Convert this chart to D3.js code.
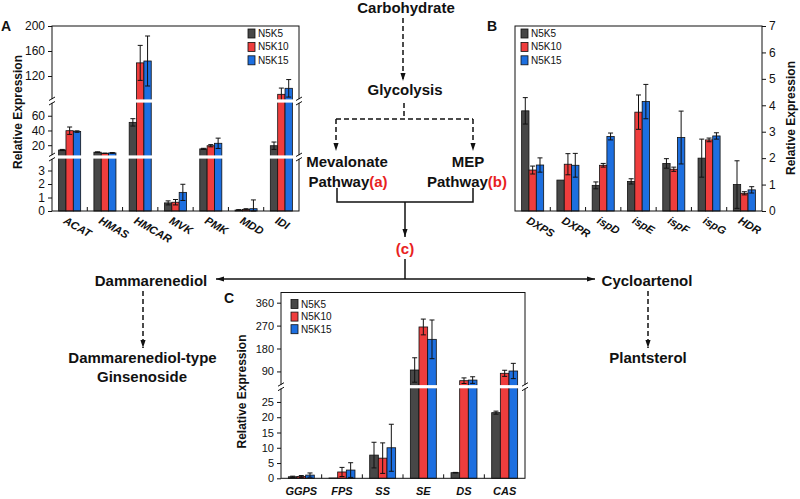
<!DOCTYPE html>
<html><head><meta charset="utf-8">
<script src="https://cdn.jsdelivr.net/npm/d3@7"></script>
<style>
body{margin:0;background:#fff}
svg{display:block}
text{font-family:"Liberation Sans",Arial,sans-serif;fill:#111}
</style>
</head><body>
<svg id="c" width="800" height="499"></svg>
<script>
// ---------- DATA ----------
const series = ["N5K5", "N5K10", "N5K15"];

const catsA = ["ACAT", "HMAS", "HMCAR", "MVK", "PMK", "MDD", "IDI"];
const a_N5K5  = [13.5, 10.5, 51, 0.6, 15, 0.07, 19.3];
const a_N5K10 = [39.7, 9, 141, 0.65, 19.3, 0.12, 90.7];
const a_N5K15 = [38.5, 9.5, 144, 1.38, 22.6, 0.17, 100.3];
const aErr_N5K5  = [0.8, 0.5, 5, 0.15, 0.8, 0.03, 5];
const aErr_N5K10 = [5, 0.3, 28, 0.2, 1.5, 0.05, 10];
const aErr_N5K15 = [1, 0.5, 40, 0.6, 7, 0.65, 14];
const ticksA = [0, 1, 2, 3, 20, 40, 60, 120, 160, 200];

const catsB = ["DXPS", "DXPR", "ispD", "ispE", "ispF", "ispG", "HDR"];
const b_N5K5  = [3.79, 1.17, 0.97, 1.12, 1.8, 2.0, 1.0];
const b_N5K10 = [1.55, 1.77, 1.73, 3.74, 1.58, 2.69, 0.67];
const b_N5K15 = [1.74, 1.73, 2.82, 4.14, 2.78, 2.84, 0.8];
const bErr_N5K5  = [0.5, 0, 0.13, 0.1, 0.18, 0.72, 0.9];
const bErr_N5K10 = [0.15, 0.4, 0.07, 0.65, 0.08, 0.07, 0.06];
const bErr_N5K15 = [0.27, 0.45, 0.13, 0.65, 1.0, 0.12, 0.12];
const ticksB = [0, 1, 2, 3, 4, 5, 6, 7];

const catsC = ["GGPS", "FPS", "SS", "SE", "DS", "CAS"];
const c_N5K5  = [0.5, 0.1, 7.6, 95.6, 1.84, 21.5];
const c_N5K10 = [0.6, 2.07, 6.6, 264.6, 53.6, 82.6];
const c_N5K15 = [1.05, 2.7, 10.0, 216, 56, 91.7];
const cErr_N5K5  = [0.2, 0, 4.2, 48, 0.1, 0.5];
const cErr_N5K10 = [0.3, 1.5, 5, 31, 11, 12];
const cErr_N5K15 = [0.7, 2.4, 7.7, 76, 13, 30];
const ticksC = [0, 5, 10, 15, 20, 25, 90, 180, 270, 360];

// ---------- STYLE ----------
const colors = ["#474747", "#ef3d3d", "#1d6fe0"];
const svg = d3.select("#c");

const defs = svg.append("defs");
defs.append("marker").attr("id", "ah").attr("viewBox", "0 0 10 10")
  .attr("refX", 10).attr("refY", 5).attr("markerWidth", 8).attr("markerHeight", 8)
  .attr("markerUnits", "userSpaceOnUse").attr("orient", "auto")
  .append("path").attr("d", "M0,1.8 L10,5 L0,8.2 z").attr("fill", "#111");

function panel(cfg) {
  const g = svg.append("g");
  const yS = cfg.y;
  const yTop = yS(cfg.top), yBase = yS(0);
  const xb = d3.scaleBand().domain(cfg.cats).range([cfg.x0, cfg.x1]);
  const xi = d3.scaleBand().domain(series).range([0, xb.bandwidth()]).paddingOuter(cfg.pad);
  const rows = [];
  series.forEach((s, si) => cfg.cats.forEach((c, ci) =>
    rows.push({s, si, c, v: cfg.vals[si][ci], e: cfg.errs[si][ci]})));

  g.selectAll("rect.bar").data(rows).join("rect").attr("class", "bar")
    .attr("x", d => xb(d.c) + xi(d.s)).attr("width", xi.bandwidth())
    .attr("y", d => yS(d.v)).attr("height", d => yBase - yS(d.v))
    .attr("fill", d => colors[d.si]).attr("stroke", "#111").attr("stroke-width", 0.8);

  const eb = g.selectAll("g.eb").data(rows.filter(d => d.e > 0)).join("g").attr("class", "eb")
    .attr("stroke", "#111").attr("stroke-width", 1);
  const cx = d => xb(d.c) + xi(d.s) + xi.bandwidth() / 2;
  eb.append("line").attr("x1", cx).attr("x2", cx)
    .attr("y1", d => yS(Math.max(0, d.v - d.e))).attr("y2", d => yS(d.v + d.e));
  eb.append("line").attr("x1", d => cx(d) - 2.5).attr("x2", d => cx(d) + 2.5)
    .attr("y1", d => yS(d.v + d.e)).attr("y2", d => yS(d.v + d.e));
  eb.append("line").attr("x1", d => cx(d) - 2.5).attr("x2", d => cx(d) + 2.5)
    .attr("y1", d => yS(Math.max(0, d.v - d.e))).attr("y2", d => yS(Math.max(0, d.v - d.e)));

  // white break bands
  (cfg.breaks || []).forEach(bv => {
    const by = yS(bv);
    g.append("rect").attr("x", cfg.x0 + 0.5).attr("width", cfg.x1 - cfg.x0 - 1)
      .attr("y", by - 1.6).attr("height", 3.2).attr("fill", "#fff");
  });

  // frame
  g.append("rect").attr("x", cfg.x0).attr("y", yTop).attr("width", cfg.x1 - cfg.x0)
    .attr("height", yBase - yTop).attr("fill", "none").attr("stroke", "#111").attr("stroke-width", 1);

  // boundary ticks on baseline
  g.selectAll("line.bt").data(cfg.cats.slice(1)).join("line").attr("class", "bt")
    .attr("x1", d => xb(d)).attr("x2", d => xb(d)).attr("y1", yBase).attr("y2", yBase - 4)
    .attr("stroke", "#111").attr("stroke-width", 1);

  // axis
  const ax = (cfg.side === "right" ? d3.axisRight(yS) : d3.axisLeft(yS))
    .tickValues(cfg.ticks).tickFormat(d3.format("d")).tickSize(4).tickPadding(3);
  const ag = g.append("g").attr("transform", `translate(${cfg.side === "right" ? cfg.x1 : cfg.x0},0)`).call(ax);
  ag.select(".domain").remove();
  ag.selectAll("line").attr("stroke", "#111");
  ag.selectAll("text").attr("font-size", cfg.tickFont).attr("fill", "#111");

  // axis break marks
  (cfg.breaks || []).forEach(bv => {
    const by = yS(bv);
    [cfg.x0, cfg.x1].forEach(ax0 => {
      g.append("rect").attr("x", ax0 - 1).attr("width", 2).attr("y", by - 1.8).attr("height", 3.6).attr("fill", "#fff");
      g.append("line").attr("x1", ax0 - 3).attr("x2", ax0 + 3).attr("y1", by - 0.5).attr("y2", by - 4)
        .attr("stroke", "#111").attr("stroke-width", 1);
      g.append("line").attr("x1", ax0 - 3).attr("x2", ax0 + 3).attr("y1", by + 4).attr("y2", by + 0.5)
        .attr("stroke", "#111").attr("stroke-width", 1);
    });
  });

  // x labels
  const lab = g.selectAll("text.xl").data(cfg.cats).join("text").attr("class", "xl")
    .attr("font-size", 11).attr("font-weight", "bold").attr("font-style", "italic").text(d => d);
  if (cfg.rotate) {
    lab.attr("transform", d => `translate(${xb(d) + xb.bandwidth() / 2 - 3},216) rotate(30)`)
      .attr("dy", "0.71em").attr("text-anchor", "start");
  } else {
    lab.attr("x", d => xb(d) + xb.bandwidth() / 2).attr("y", cfg.labelY).attr("text-anchor", "middle");
  }

  // legend
  const lg = g.selectAll("g.lg").data(series).join("g").attr("class", "lg")
    .attr("transform", (d, i) => `translate(${cfg.legX},${cfg.legY + i * cfg.legStep})`);
  lg.append("rect").attr("x", 0).attr("y", -4.5).attr("width", 7).attr("height", 9)
    .attr("fill", (d, i) => colors[i]).attr("stroke", "#111").attr("stroke-width", 0.8);
  lg.append("text").attr("x", 10).attr("dy", "0.35em").attr("font-size", 10).text(d => d);

  // y title
  g.append("text").attr("transform", `translate(${cfg.titleX},${cfg.titleY}) rotate(-90)`)
    .attr("text-anchor", "middle").attr("dy", "0.35em").attr("font-size", 12).attr("font-weight", "bold")
    .text("Relative Expression");
  g.append("text").attr("x", cfg.tagX).attr("y", cfg.tagY).attr("font-size", 14).attr("font-weight", "bold").text(cfg.tag);
}

panel({
  cats: catsA, vals: [a_N5K5, a_N5K10, a_N5K15], errs: [aErr_N5K5, aErr_N5K10, aErr_N5K15],
  x0: 52, x1: 299, top: 200, pad: 0.9,
  y: d3.scaleLinear().domain([0, 4, 80, 200]).range([211, 157, 101, 26]),
  ticks: ticksA, side: "left", breaks: [4, 80], tickFont: 12, rotate: true,
  legX: 248, legY: 33.5, legStep: 13.4, titleX: 18, titleY: 112, tag: "A", tagX: 1, tagY: 31
});
panel({
  cats: catsB, vals: [b_N5K5, b_N5K10, b_N5K15], errs: [bErr_N5K5, bErr_N5K10, bErr_N5K15],
  x0: 515, x1: 762, top: 7, pad: 0.9,
  y: d3.scaleLinear().domain([0, 7]).range([211, 26]),
  ticks: ticksB, side: "right", breaks: [], tickFont: 12, rotate: true,
  legX: 521, legY: 33.5, legStep: 13.4, titleX: 791, titleY: 118, tag: "B", tagX: 487, tagY: 31
});
panel({
  cats: catsC, vals: [c_N5K5, c_N5K10, c_N5K15], errs: [cErr_N5K5, cErr_N5K10, cErr_N5K15],
  x0: 281, x1: 525, top: 400, pad: 0.85,
  y: d3.scaleLinear().domain([0, 30, 400]).range([478.3, 386.7, 292.5]),
  ticks: ticksC, side: "left", breaks: [30], tickFont: 11, rotate: false, labelY: 494.5,
  legX: 291, legY: 304, legStep: 12.6, titleX: 242, titleY: 391.5, tag: "C", tagX: 224, tagY: 303
});

// ---------- PATHWAY ----------
const pw = svg.append("g");
const lineS = (pts, dashed, arrow) => pw.append("path")
  .attr("d", d3.line()(pts)).attr("fill", "none").attr("stroke", "#111").attr("stroke-width", 1.5)
  .attr("stroke-dasharray", dashed ? "5,3" : null).attr("marker-end", arrow ? "url(#ah)" : null);

lineS([[403, 18], [403, 81]], true, true);
lineS([[404, 103], [404, 119]], true, false);
lineS([[336, 119], [473, 119]], true, false);
lineS([[336, 119], [336, 151]], true, true);
lineS([[473, 119], [473, 151]], true, true);
lineS([[337, 188], [337, 202], [473, 202], [473, 188]], false, false);
lineS([[405, 202], [405, 237]], false, true);
lineS([[405, 259], [405, 279]], false, false);
lineS([[405, 279], [216, 279]], false, true);
lineS([[405, 279], [595, 279]], false, true);
lineS([[143, 291], [143, 348]], true, true);
lineS([[648, 291], [648, 348]], true, true);

const label = (x, y, parts) => {
  const t = pw.append("text").attr("x", x).attr("y", y).attr("text-anchor", "middle")
    .attr("font-size", 15).attr("font-weight", "bold");
  parts.forEach(p => t.append("tspan").text(p[0]).style("fill", p[1] || "#111"));
};
label(406, 13, [["Carbohydrate"]]);
label(405, 95, [["Glycolysis"]]);
label(347, 166.5, [["Mevalonate"]]);
label(348, 186.5, [["Pathway"], ["(a)", "#e8221e"]]);
label(468, 166.5, [["MEP"]]);
label(467, 186.5, [["Pathway"], ["(b)", "#e8221e"]]);
label(405, 254, [["(c)", "#e8221e"]]);
label(151, 286, [["Dammarenediol"]]);
label(647, 286, [["Cycloartenol"]]);
label(142.5, 363, [["Dammarenediol-type"]]);
label(142, 382, [["Ginsenoside"]]);
label(648, 363, [["Plantsterol"]]);
</script>
</body></html>
